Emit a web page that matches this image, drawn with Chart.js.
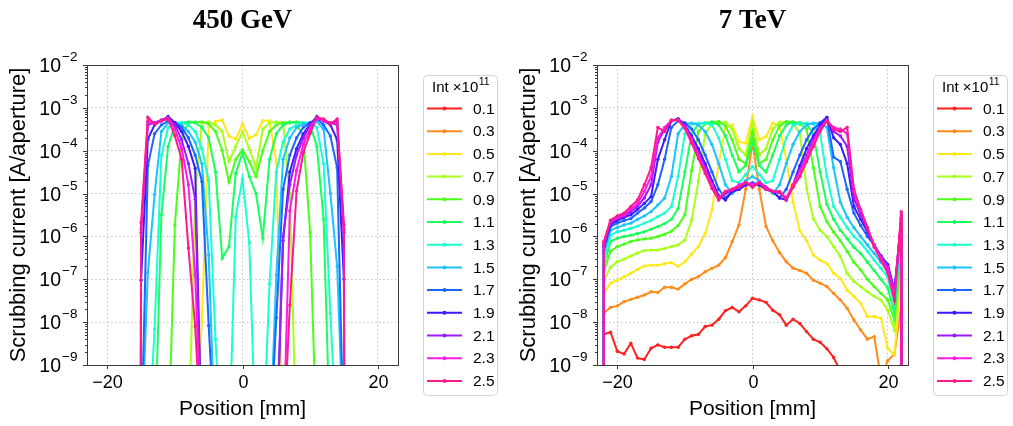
<!DOCTYPE html>
<html>
<head>
<meta charset="utf-8">
<script src="https://cdn.jsdelivr.net/npm/chart.js@4"></script>
<style>
  html, body { margin: 0; padding: 0; background: #fff; overflow: hidden; }
  .panel { position: absolute; top: 0; width: 503px; height: 426px; }
  #panel-gev { left: 0; }
  #panel-tev { left: 510px; }
</style>
</head>
<body>
<div class="panel" id="panel-gev"><canvas id="gevChart" width="503" height="426"></canvas></div>
<div class="panel" id="panel-tev"><canvas id="tevChart" width="503" height="426"></canvas></div>
<script>
// bunch intensities (x10^11) and their line colours
const intensities = ['0.1', '0.3', '0.5', '0.7', '0.9', '1.1', '1.3', '1.5', '1.7', '1.9', '2.1', '2.3', '2.5'];
const lineColors = ['#ff2020', '#ff8c1a', '#ffe81a', '#a8ff1a', '#4cff1a', '#1aff5c', '#1affd2',
                    '#1ac4ff', '#1a66ff', '#3a1aff', '#a01aff', '#ff1ae8', '#ff1a8c'];

const xTickValues = [-20, 0, 20];
const xTickLabels = ['\u221220', '0', '20'];
const yTickPowers = [-9, -8, -7, -6, -5, -4, -3, -2];

// ---- 450 GeV: positions [mm] ----
const posGeV = [-15.05, -15, -14, -13, -12, -11, -10, -9, -8, -7, -6, -5, -4, -3, -2, -1, 0,
                1, 2, 3, 4, 5, 6, 7, 8, 9, 10, 11, 12, 13, 14, 15, 15.05];

// scrubbing current [A/aperture] at 450 GeV
const gev_01 = [];
const gev_03 = [];
const gev_05 = [1e-11, 1e-11, 1e-11, 1e-11, 1e-11, 1e-11, 1e-11, 1e-11, 1e-11, 1e-11,
  1.12e-8, 3.5e-4, 4.8e-4, 5.2e-4, 2.2e-4, 1.86e-4, 4.2e-4, 1.95e-4, 2.35e-4, 5.0e-4, 5.0e-4, 5.4e-5,
  1e-11, 1e-11, 1e-11, 1e-11, 1e-11, 1e-11, 1e-11, 1e-11, 1e-11, 1e-11, 1e-11];
const gev_07 = [1e-11, 1e-11, 1e-11, 1e-11, 1e-11, 1e-11, 1e-11, 1e-11, 1e-11,
  1.0e-5, 4.5e-4, 4.7e-4, 4.0e-4, 2.8e-4, 5.6e-5, 1.26e-4, 2.75e-4, 1.12e-4, 4.0e-5, 3.2e-4, 4.5e-4, 4.7e-4, 4.5e-4, 1.0e-5,
  1e-11, 1e-11, 1e-11, 1e-11, 1e-11, 1e-11, 1e-11, 1e-11, 1e-11];
const gev_09 = [1e-11, 1e-11, 1e-11, 1e-11, 1e-11, 1e-11,
  1.86e-6, 2.0e-4, 4.5e-4, 4.7e-4, 4.7e-4, 4.2e-4, 2.8e-4, 1.0e-4, 1.86e-5, 6.3e-5, 1.05e-4,
  5.6e-5, 2.5e-5, 1.0e-4, 2.8e-4, 4.0e-4, 4.5e-4, 4.7e-4, 4.5e-4, 2.0e-4, 1.26e-6,
  1e-11, 1e-11, 1e-11, 1e-11, 1e-11, 1e-11];
const gev_11 = [1e-11, 1e-11, 1e-11, 1e-11,
  3.2e-6, 1.26e-4, 4.0e-4, 4.5e-4, 4.7e-4, 4.5e-4, 3.5e-4, 2.0e-4, 3.2e-5, 3.1e-7, 5.8e-7, 2.95e-5, 8.9e-5,
  2.5e-5, 1.0e-5, 9.1e-7, 6.3e-5, 2.5e-4, 4.0e-4, 4.5e-4, 4.7e-4, 4.5e-4, 4.0e-4, 1.26e-4, 2.5e-6,
  1e-11, 1e-11, 1e-11, 1e-11];
const gev_13 = [1e-11, 1e-11, 1e-11,
  6.9e-9, 7.9e-5, 3.5e-4, 4.5e-4, 4.5e-4, 4.0e-4, 2.8e-4, 1.12e-4, 2.0e-5, 4.0e-9, 1e-11, 1e-11, 2.9e-6, 2.2e-5,
  7.2e-7, 1e-11, 1e-11, 7.9e-8, 3.2e-5, 1.6e-4, 3.2e-4, 4.0e-4, 4.5e-4, 4.5e-4, 3.5e-4, 5.0e-5, 1.6e-8, 1e-11, 1e-11,
  1e-11];
const gev_15 = [1e-11, 1e-11,
  1.4e-7, 9.5e-6, 2.8e-4, 4.5e-4, 4.5e-4, 4.0e-4, 2.8e-4, 1.6e-4, 5.0e-5, 3.7e-7,
  1e-11, 1e-11, 1e-11, 1e-11, 1e-11, 1e-11, 1e-11, 1e-11, 1e-11,
  1.26e-7, 6.3e-5, 2.0e-4, 3.5e-4, 4.2e-4, 4.5e-4, 4.8e-4, 3.2e-4, 1.0e-5, 2.0e-7,
  1e-11, 1e-11];
const gev_17 = [1e-11, 1e-11,
  4.5e-5, 2.5e-4, 4.0e-4, 5.0e-4, 4.5e-4, 3.5e-4, 2.0e-4, 7.9e-5, 1.9e-5, 8.3e-9,
  1e-11, 1e-11, 1e-11, 1e-11, 1e-11, 1e-11, 1e-11, 1e-11, 1e-11,
  1.26e-8, 1.26e-5, 7.9e-5, 2.0e-4, 3.5e-4, 4.5e-4, 5.6e-4, 4.0e-4, 2.2e-4, 4.0e-5,
  1e-11, 1e-11];
const gev_19 = [1e-11,
  9.5e-8, 1.86e-4, 4.0e-4, 5.0e-4, 6.3e-4, 4.5e-4, 2.8e-4, 1.26e-4, 3.9e-5,
  1e-11, 1e-11, 1e-11, 1e-11, 1e-11, 1e-11, 1e-11, 1e-11, 1e-11, 1e-11, 1e-11, 1e-11,
  7.9e-7, 3.2e-5, 1.12e-4, 2.5e-4, 4.2e-4, 6.3e-4, 5.0e-4, 4.0e-4, 1.8e-4, 1.0e-7,
  1e-11];
const gev_21 = [1e-11,
  1.23e-6, 4.0e-4, 4.5e-4, 5.2e-4, 6.0e-4, 4.0e-4, 1.8e-4, 5.0e-5, 7.4e-6,
  1e-11, 1e-11, 1e-11, 1e-11, 1e-11, 1e-11, 1e-11, 1e-11, 1e-11, 1e-11, 1e-11, 1e-11,
  1.0e-6, 1.6e-5, 7.9e-5, 2.0e-4, 4.0e-4, 6.0e-4, 5.0e-4, 4.5e-4, 4.0e-4, 1.26e-6,
  1e-11];
const gev_23 = [1e-11,
  1.45e-6, 4.8e-4, 4.4e-4, 5.0e-4, 5.8e-4, 3.2e-4, 1.12e-4, 1.6e-5, 1.26e-7,
  1e-11, 1e-11, 1e-11, 1e-11, 1e-11, 1e-11, 1e-11, 1e-11, 1e-11, 1e-11, 1e-11, 1e-11, 1e-11,
  4.0e-6, 3.5e-5, 1.4e-4, 3.2e-4, 5.8e-4, 5.0e-4, 4.4e-4, 4.8e-4, 1.45e-6,
  1e-11];
const gev_25 = [1e-11,
  2.1e-6, 6.0e-4, 4.2e-4, 5.0e-4, 5.5e-4, 2.2e-4, 6.3e-5, 5.4e-7, 7.9e-9,
  1e-11, 1e-11, 1e-11, 1e-11, 1e-11, 1e-11, 1e-11, 1e-11, 1e-11, 1e-11, 1e-11, 1e-11, 1e-11,
  2.5e-8, 1.15e-5, 9.1e-5, 2.5e-4, 6.0e-4, 5.5e-4, 4.2e-4, 5.5e-4, 1.9e-6,
  1e-11];

// ---- 7 TeV: positions [mm] ----
const posTeV = [-22.05, -22, -21, -20, -19, -18, -17, -16, -15, -14, -13, -12, -11, -10, -9, -8, -7, -6, -5, -4, -3, -2, -1, 0,
                1, 2, 3, 4, 5, 6, 7, 8, 9, 10, 11, 12, 13, 14, 15, 16, 17, 18, 19, 20, 21, 22, 22.05];

const tev_01 = [1e-12, 5.2e-9, 5.8e-9, 2.1e-9, 1.8e-9, 3.2e-9, 1.45e-9, 1.35e-9, 2.45e-9, 2.95e-9, 2.6e-9, 2.6e-9, 2.6e-9,
  4.0e-9, 4.8e-9, 5.2e-9, 7.9e-9, 8.5e-9, 1.17e-8, 1.86e-8, 2.2e-8, 1.74e-8, 2.4e-8, 3.6e-8,
  3.3e-8, 2.9e-8, 1.9e-8, 1.5e-8, 8.5e-9, 1.17e-8, 9.3e-9, 6.0e-9, 4.0e-9, 3.4e-9, 2.4e-9, 1.5e-9, 7.1e-10,
  null, null, null, null, null, null, null, null, null, null];
const tev_03 = [1e-12, 1.62e-8, 2.2e-8, 2.4e-8, 3.0e-8, 3.4e-8, 3.8e-8, 4.3e-8, 5.1e-8, 4.9e-8, 6.5e-8, 6.5e-8, 5.9e-8,
  7.8e-8, 1.0e-7, 1.15e-7, 1.5e-7, 1.8e-7, 2.14e-7, 3.2e-7, 7.6e-7, 1.86e-6, 1.26e-5, 1.6e-4,
  1.26e-5, 1.7e-6, 7.9e-7, 4.2e-7, 2.57e-7, 1.82e-7, 1.6e-7, 1.38e-7, 9.5e-8, 8.1e-8, 6.8e-8, 4.7e-8, 3.3e-8,
  2.1e-8, 1.12e-8, 6.6e-9, 4.0e-9, 4.6e-9, 5.0e-10, 1.26e-9, 1.8e-9, 2.5e-8, 1e-12];
const tev_05 = [1e-12, 4.7e-8, 8.1e-8, 9.5e-8, 1.15e-7, 1.38e-7, 1.7e-7, 2.04e-7, 2.14e-7, 2.14e-7, 2.3e-7, 2.45e-7, 2.0e-7,
  2.57e-7, 3.9e-7, 5.8e-7, 1.17e-6, 4.2e-6, 5.0e-5, 3.5e-4, 4.0e-4, 1.62e-4, 1.5e-4, 6.3e-4,
  1.8e-4, 2.14e-4, 4.4e-4, 3.8e-4, 6.3e-5, 6.3e-6, 1.35e-6, 7.9e-7, 3.7e-7, 2.8e-7, 2.35e-7, 1.38e-7, 1.05e-7,
  5.6e-8, 4.0e-8, 2.75e-8, 1.35e-8, 1.35e-8, 1.23e-8, 2.45e-9, 1.7e-9, 1.26e-7, 1e-12];
const tev_07 = [1e-12, 9.5e-8, 1.9e-7, 2.57e-7, 2.95e-7, 3.5e-7, 4.1e-7, 4.7e-7, 4.8e-7, 4.8e-7, 5.2e-7, 5.8e-7, 6.3e-7,
  8.3e-7, 2.4e-6, 2.0e-5, 2.5e-4, 4.2e-4, 4.5e-4, 4.6e-4, 3.2e-4, 1.12e-4, 7.9e-5, 4.4e-4,
  7.9e-5, 1.12e-4, 3.2e-4, 4.6e-4, 4.6e-4, 4.4e-4, 2.5e-4, 1.32e-5, 2.6e-6, 1.4e-6, 1.0e-6, 5.8e-7, 3.4e-7,
  1.38e-7, 8.9e-8, 6.8e-8, 5.1e-8, 4.0e-8, 3.3e-8, 1.9e-8, 6.6e-9, 2.5e-7, 1e-12];
const tev_09 = [1e-12, 1.5e-7, 4.5e-7, 5.8e-7, 6.6e-7, 7.6e-7, 8.3e-7, 8.7e-7, 9.1e-7, 1.0e-6, 1.12e-6, 1.32e-6, 1.8e-6,
  3.2e-6, 3.5e-5, 2.8e-4, 4.2e-4, 4.7e-4, 4.8e-4, 3.8e-4, 1.8e-4, 6.3e-5, 5.0e-5, 2.75e-4,
  5.0e-5, 6.3e-5, 1.8e-4, 3.8e-4, 4.8e-4, 4.7e-4, 4.2e-4, 3.2e-4, 4.0e-5, 5.0e-6, 2.2e-6, 1.26e-6, 7.9e-7,
  4.5e-7, 2.5e-7, 1.66e-7, 1.0e-7, 6.8e-8, 4.7e-8, 3.3e-8, 1.12e-8, 4.5e-7, 1e-12];
const tev_11 = [1e-12, 2.14e-7, 7.6e-7, 9.1e-7, 1.0e-6, 1.07e-6, 1.17e-6, 1.29e-6, 1.48e-6, 1.7e-6, 2.0e-6, 2.5e-6, 4.5e-6,
  3.2e-5, 2.5e-4, 4.2e-4, 4.5e-4, 4.6e-4, 4.0e-4, 2.2e-4, 7.9e-5, 3.2e-5, 4.5e-5, 1.6e-4,
  4.5e-5, 3.2e-5, 7.9e-5, 2.2e-4, 4.0e-4, 4.6e-4, 4.5e-4, 4.2e-4, 2.5e-4, 3.2e-5, 5.6e-6, 2.5e-6, 1.4e-6,
  8.9e-7, 5.6e-7, 4.0e-7, 2.5e-7, 1.6e-7, 1.0e-7, 6.3e-8, 1.6e-8, 7.9e-7, 1e-12];
const tev_13 = [1e-12, 2.8e-7, 1.07e-6, 1.29e-6, 1.4e-6, 1.55e-6, 1.74e-6, 2.04e-6, 2.35e-6, 2.9e-6, 3.5e-6, 5.0e-6, 2.5e-5,
  2.5e-4, 4.2e-4, 4.4e-4, 4.4e-4, 4.0e-4, 2.0e-4, 6.3e-5, 2.0e-5, 1.8e-5, 2.8e-5, 4.3e-5,
  2.8e-5, 1.8e-5, 2.0e-5, 6.3e-5, 2.0e-4, 4.0e-4, 4.4e-4, 4.4e-4, 4.2e-4, 2.5e-4, 2.5e-5, 5.0e-6, 2.8e-6,
  1.6e-6, 1.0e-6, 7.1e-7, 4.5e-7, 2.8e-7, 1.8e-7, 1.12e-7, 2.5e-8, 1.12e-6, 1e-12];
const tev_15 = [1e-12, 4.1e-7, 1.4e-6, 1.62e-6, 1.86e-6, 2.04e-6, 2.5e-6, 3.0e-6, 3.8e-6, 5.4e-6, 7.9e-6, 2.5e-5, 2.5e-4,
  4.2e-4, 4.4e-4, 4.0e-4, 2.8e-4, 1.4e-4, 5.0e-5, 1.6e-5, 1.0e-5, 1.4e-5, 2.0e-5, 2.5e-5,
  2.0e-5, 1.4e-5, 1.0e-5, 1.6e-5, 5.0e-5, 1.4e-4, 2.8e-4, 4.0e-4, 4.4e-4, 4.4e-4, 3.5e-4, 4.0e-5, 6.3e-6,
  2.8e-6, 1.6e-6, 1.0e-6, 6.3e-7, 4.0e-7, 2.5e-7, 1.6e-7, 3.5e-8, 1.6e-6, 1e-12];
const tev_17 = [1e-12, 4.8e-7, 1.7e-6, 2.04e-6, 2.35e-6, 2.6e-6, 3.5e-6, 4.6e-6, 6.5e-6, 1.6e-5, 6.3e-5, 3.5e-4, 5.0e-4,
  4.5e-4, 3.2e-4, 1.8e-4, 7.9e-5, 3.2e-5, 1.26e-5, 7.9e-6, 1.12e-5, 1.26e-5, 1.6e-5, 1.8e-5,
  1.6e-5, 1.26e-5, 1.12e-5, 7.9e-6, 1.26e-5, 3.2e-5, 7.9e-5, 1.8e-4, 3.2e-4, 4.5e-4, 6.0e-4, 7.1e-5, 5.6e-5,
  1.26e-5, 3.5e-6, 1.8e-6, 1.0e-6, 6.3e-7, 3.5e-7, 2.2e-7, 5.0e-8, 2.0e-6, 1e-12];
const tev_19 = [1e-12, 5.8e-7, 1.9e-6, 2.35e-6, 2.8e-6, 3.2e-6, 4.3e-6, 5.9e-6, 8.5e-6, 6.3e-5, 1.8e-4, 5.0e-4, 5.6e-4,
  4.0e-4, 2.2e-4, 1.12e-4, 5.0e-5, 2.0e-5, 8.9e-6, 7.1e-6, 1.12e-5, 1.26e-5, 1.6e-5, 1.6e-5,
  1.6e-5, 1.26e-5, 1.12e-5, 7.9e-6, 7.1e-6, 1.6e-5, 4.5e-5, 1.12e-4, 2.2e-4, 4.0e-4, 6.0e-4, 2.0e-4, 1.4e-4,
  5.0e-5, 5.0e-6, 2.5e-6, 1.26e-6, 6.3e-7, 3.5e-7, 2.2e-7, 5.6e-8, 2.5e-6, 1e-12];
const tev_21 = [1e-12, 6.3e-7, 2.1e-6, 2.57e-6, 3.0e-6, 3.8e-6, 5.1e-6, 7.9e-6, 1.6e-5, 1.6e-4, 3.2e-4, 5.0e-4, 5.4e-4,
  3.8e-4, 1.9e-4, 8.9e-5, 4.0e-5, 1.66e-5, 7.6e-6, 1.0e-5, 1.2e-5, 1.4e-5, 1.8e-5, 1.5e-5,
  1.8e-5, 1.4e-5, 1.12e-5, 1.05e-5, 7.6e-6, 1.5e-5, 3.5e-5, 7.9e-5, 1.8e-4, 3.5e-4, 5.4e-4, 2.8e-4, 2.2e-4,
  1.26e-4, 7.9e-6, 3.2e-6, 1.4e-6, 6.3e-7, 3.2e-7, 2.0e-7, 5.0e-8, 2.8e-6, 1e-12];
const tev_23 = [1e-12, 6.9e-7, 2.35e-6, 2.8e-6, 3.2e-6, 4.3e-6, 5.9e-6, 1.12e-5, 2.5e-5, 2.0e-4, 3.5e-4, 5.0e-4, 5.2e-4,
  3.5e-4, 1.8e-4, 7.9e-5, 3.5e-5, 1.6e-5, 7.9e-6, 1.12e-5, 1.26e-5, 1.6e-5, 1.8e-5, 1.6e-5,
  1.8e-5, 1.4e-5, 1.12e-5, 1.12e-5, 7.9e-6, 1.6e-5, 3.2e-5, 7.1e-5, 1.6e-4, 3.2e-4, 5.0e-4, 3.5e-4, 3.2e-4,
  2.5e-4, 1.12e-5, 4.0e-6, 1.6e-6, 6.3e-7, 3.2e-7, 1.8e-7, 4.0e-8, 3.2e-6, 1e-12];
const tev_25 = [1e-12, 7.6e-7, 2.4e-6, 3.0e-6, 3.5e-6, 5.0e-6, 7.1e-6, 1.6e-5, 4.0e-5, 3.5e-4, 2.8e-4, 5.2e-4, 5.2e-4,
  3.3e-4, 1.5e-4, 6.6e-5, 2.95e-5, 1.32e-5, 7.1e-6, 1.12e-5, 1.26e-5, 1.4e-5, 1.8e-5, 1.4e-5,
  1.8e-5, 1.26e-5, 1.12e-5, 1.12e-5, 7.1e-6, 1.4e-5, 2.5e-5, 5.6e-5, 1.26e-4, 2.8e-4, 5.0e-4, 3.2e-4, 2.8e-4,
  3.5e-4, 1.26e-5, 4.2e-6, 1.6e-6, 5.6e-7, 2.8e-7, 1.4e-7, 3.2e-8, 3.8e-6, 1e-12];

const SANS = '"Liberation Sans", Arial, sans-serif';

function drawLegend(chart) {
    const ctx = chart.ctx;
    const bx = 423.5, by = 75.5, bw = 74, bh = 320;
    ctx.save();
    ctx.beginPath();
    ctx.roundRect(bx, by, bw, bh, 4);
    ctx.fillStyle = 'rgba(255,255,255,0.85)';
    ctx.fill();
    ctx.strokeStyle = '#d4d4d4';
    ctx.lineWidth = 1;
    ctx.stroke();

    ctx.fillStyle = '#000';
    ctx.textAlign = 'left';
    ctx.textBaseline = 'middle';
    ctx.font = '15px ' + SANS;
    ctx.fillText('Int \u00d710', 432, 88);
    const w = ctx.measureText('Int \u00d710').width;
    ctx.font = '10.5px ' + SANS;
    ctx.fillText('11', 432 + w + 0.5, 82);

    chart.data.datasets.forEach((ds, i) => {
        const yy = 108.5 + i * 22.7;
        ctx.strokeStyle = ds.borderColor;
        ctx.lineWidth = 2;
        ctx.beginPath();
        ctx.moveTo(427, yy);
        ctx.lineTo(462, yy);
        ctx.stroke();
        ctx.fillStyle = ds.borderColor;
        ctx.beginPath();
        ctx.arc(444.5, yy, 2, 0, Math.PI * 2);
        ctx.fill();
        ctx.fillStyle = '#000';
        ctx.font = '15.5px ' + SANS;
        ctx.fillText(ds.label, 473, yy + 1);
    });
    ctx.restore();
}

const panelDecor = {
    id: 'panelDecor',
    afterDraw(chart, args, opts) {
        const { ctx, chartArea: a, scales: { x, y } } = chart;
        ctx.save();

        // frame
        ctx.strokeStyle = '#3a3a3a';
        ctx.lineWidth = 1;
        ctx.strokeRect(Math.round(a.left) + 0.5, Math.round(a.top) + 0.5,
                       Math.round(a.right - a.left), Math.round(a.bottom - a.top));

        // y ticks (major + minor) and labels 10^n
        ctx.fillStyle = '#000';
        ctx.strokeStyle = '#3a3a3a';
        yTickPowers.forEach(p => {
            const py = Math.round(y.getPixelForValue(Math.pow(10, p))) + 0.5;
            ctx.beginPath();
            ctx.moveTo(a.left - 4, py);
            ctx.lineTo(a.left, py);
            ctx.stroke();
            if (p < -2) {
                for (let m = 2; m <= 9; m++) {
                    const pm = Math.round(y.getPixelForValue(m * Math.pow(10, p))) + 0.5;
                    ctx.beginPath();
                    ctx.moveTo(a.left - 2, pm);
                    ctx.lineTo(a.left, pm);
                    ctx.stroke();
                }
            }
            ctx.font = '19.5px ' + SANS;
            ctx.textAlign = 'right';
            ctx.textBaseline = 'middle';
            ctx.fillText('10', a.left - 26, py + 1);
            ctx.font = '13.5px ' + SANS;
            ctx.textAlign = 'left';
            ctx.textBaseline = 'alphabetic';
            ctx.fillText('\u2212' + Math.abs(p), a.left - 25, py - 5);
        });

        // x ticks and labels
        xTickValues.forEach((v, i) => {
            const px = Math.round(x.getPixelForValue(v)) + 0.5;
            ctx.beginPath();
            ctx.moveTo(px, a.bottom);
            ctx.lineTo(px, a.bottom + 4);
            ctx.stroke();
            ctx.font = '18px ' + SANS;
            ctx.textAlign = 'center';
            ctx.textBaseline = 'middle';
            ctx.fillText(xTickLabels[i], px, a.bottom + 18);
        });

        // axis titles
        ctx.font = '21px ' + SANS;
        ctx.textAlign = 'center';
        ctx.textBaseline = 'middle';
        ctx.fillText('Position [mm]', (a.left + a.right) / 2, 409);
        ctx.save();
        ctx.translate(19, (a.top + a.bottom) / 2);
        ctx.rotate(-Math.PI / 2);
        ctx.font = '22px ' + SANS;
        ctx.fillText('Scrubbing current [A/aperture]', 0, 0);
        ctx.restore();

        // panel title
        ctx.font = 'bold 27px "Liberation Serif", "Times New Roman", serif';
        ctx.textBaseline = 'alphabetic';
        ctx.fillText(opts.title, (a.left + a.right) / 2, 28);

        ctx.restore();
        drawLegend(chart);
    }
};

function buildDatasets(xs, series) {
    return series.map((ys, i) => ({
        label: intensities[i],
        data: ys.map((v, k) => ({ x: xs[k], y: v })),
        borderColor: lineColors[i],
        backgroundColor: lineColors[i],
        pointBackgroundColor: lineColors[i],
        borderWidth: 2,
        pointRadius: 1.7,
        pointBorderWidth: 0,
        order: series.length - 1 - i
    }));
}

function makeChart(canvasId, title, xs, series) {
    const ctx = document.getElementById(canvasId).getContext('2d');
    return new Chart(ctx, {
        type: 'line',
        data: { datasets: buildDatasets(xs, series) },
        plugins: [panelDecor],
        options: {
            responsive: false,
            animation: false,
            events: [],
            layout: { padding: { left: 87, right: 105, top: 65, bottom: 61 } },
            plugins: {
                legend: { display: false },
                tooltip: { enabled: false },
                panelDecor: { title: title }
            },
            scales: {
                x: {
                    type: 'linear',
                    min: -23,
                    max: 23,
                    afterBuildTicks: (scale) => { scale.ticks = xTickValues.map(v => ({ value: v })); },
                    ticks: { display: false },
                    grid: { color: '#c4c4c4', lineWidth: 1, drawTicks: false },
                    border: { display: false, dash: [1.5, 2.5] }
                },
                y: {
                    type: 'logarithmic',
                    min: 1e-9,
                    max: 1e-2,
                    afterBuildTicks: (scale) => { scale.ticks = yTickPowers.map(p => ({ value: Math.pow(10, p) })); },
                    ticks: { display: false },
                    grid: { color: '#c4c4c4', lineWidth: 1, drawTicks: false },
                    border: { display: false, dash: [1.5, 2.5] }
                }
            }
        }
    });
}

makeChart('gevChart', '450 GeV', posGeV,
    [gev_01, gev_03, gev_05, gev_07, gev_09, gev_11, gev_13, gev_15, gev_17, gev_19, gev_21, gev_23, gev_25]);
makeChart('tevChart', '7 TeV', posTeV,
    [tev_01, tev_03, tev_05, tev_07, tev_09, tev_11, tev_13, tev_15, tev_17, tev_19, tev_21, tev_23, tev_25]);
</script>
</body>
</html>
